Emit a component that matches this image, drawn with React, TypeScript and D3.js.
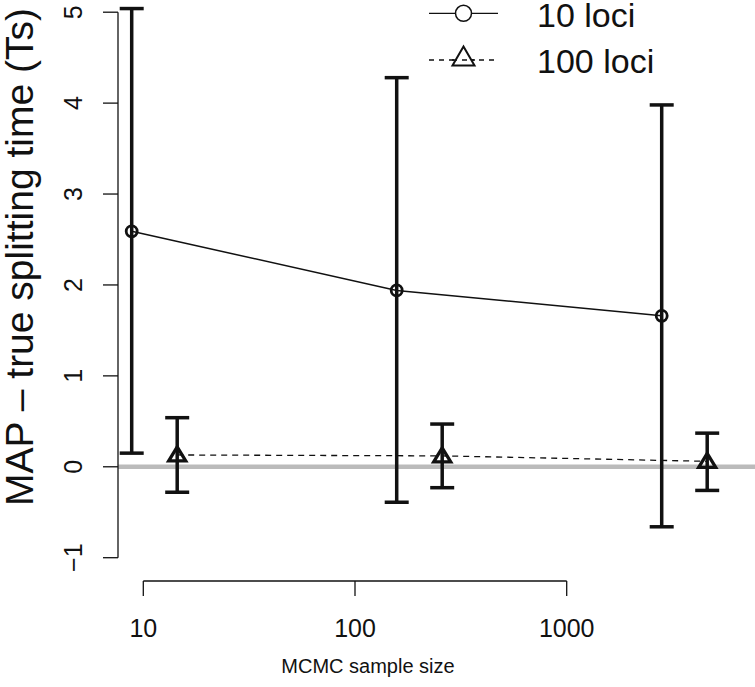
import React from "react";
import * as d3 from "d3";

const sampleSizes = [10, 100, 1000];
const axisTicks = [10, 100, 1000];
const yTicks = [-1, 0, 1, 2, 3, 4, 5];

const loci10Mean = [2.59, 1.94, 1.66];
const loci10Upper = [5.04, 4.28, 3.98];
const loci10Lower = [0.15, -0.39, -0.66];

const loci100Mean = [0.13, 0.12, 0.06];
const loci100Upper = [0.54, 0.47, 0.37];
const loci100Lower = [-0.28, -0.23, -0.26];

const seriesNames = ["10 loci", "100 loci"];

const W = 755;
const H = 687;
const FONT = "'Liberation Sans', Arial, Helvetica, sans-serif";

export default function App() {
  const y = d3.scaleLinear().domain([-1, 5]).range([557.7, 12.2]);
  const xAxis = d3.scaleLog().domain([10, 1000]).range([143.3, 566.7]);
  const xPos = d3
    .scalePoint<string>()
    .domain(sampleSizes.map(String))
    .range([131.7, 661.7]);
  const offset = 45.5;

  const s1 = sampleSizes.map((s, i) => ({
    x: xPos(String(s))!,
    m: loci10Mean[i],
    lo: loci10Lower[i],
    hi: loci10Upper[i],
  }));
  const s2 = sampleSizes.map((s, i) => ({
    x: xPos(String(s))! + offset,
    m: loci100Mean[i],
    lo: loci100Lower[i],
    hi: loci100Upper[i],
  }));

  const line = d3
    .line<{ x: number; m: number }>()
    .x((d) => d.x)
    .y((d) => y(d.m));

  const capW = 12;
  const tri = (cx: number, cy: number, w: number, h: number) =>
    `M${cx - w / 2},${cy + h / 2}L${cx + w / 2},${cy + h / 2}L${cx},${cy - h / 2}Z`;

  const axisX = 118;
  const axisY = 581;

  return (
    <svg
      width={W}
      height={H}
      style={{ position: "absolute", left: 0, top: 0, background: "#fff" }}
      fontFamily={FONT}
    >
      {/* reference zero line */}
      <line x1={axisX} x2={W} y1={y(0)} y2={y(0)} stroke="#bbbbbb" strokeWidth={4.5} />

      {/* y axis */}
      <line x1={axisX} x2={axisX} y1={y(-1)} y2={y(5)} stroke="#111" strokeWidth={1.3} />
      {yTicks.map((t) => (
        <g key={t}>
          <line x1={axisX - 15} x2={axisX} y1={y(t)} y2={y(t)} stroke="#111" strokeWidth={1.3} />
          <text
            transform={`translate(82,${y(t)}) rotate(-90)`}
            textAnchor="middle"
            fontSize={25}
            fill="#111"
          >
            {t < 0 ? "\u2212" + Math.abs(t) : t}
          </text>
        </g>
      ))}
      <text
        transform={`translate(33,257) rotate(-90)`}
        textAnchor="middle"
        fontSize={39}
        fill="#111"
      >
        MAP – true splitting time (Ts)
      </text>

      {/* x axis */}
      <line
        x1={xAxis(10)}
        x2={xAxis(1000)}
        y1={axisY}
        y2={axisY}
        stroke="#111"
        strokeWidth={1.3}
      />
      {axisTicks.map((t) => (
        <g key={t}>
          <line x1={xAxis(t)} x2={xAxis(t)} y1={axisY} y2={axisY + 15} stroke="#111" strokeWidth={1.3} />
          <text x={xAxis(t)} y={637} textAnchor="middle" fontSize={25} fill="#111">
            {t}
          </text>
        </g>
      ))}
      <text x={368} y={673} textAnchor="middle" fontSize={20} fill="#111">
        MCMC sample size
      </text>

      {/* lines */}
      <path d={line(s1)!} fill="none" stroke="#111" strokeWidth={1.5} />
      <path d={line(s2)!} fill="none" stroke="#111" strokeWidth={1.3} strokeDasharray="6,5" />

      {/* error bars */}
      {[...s1, ...s2].map((d, i) => (
        <g key={"eb" + i} stroke="#111" strokeWidth={3.5}>
          <line x1={d.x} x2={d.x} y1={y(d.lo)} y2={y(d.hi)} />
          <line x1={d.x - capW} x2={d.x + capW} y1={y(d.hi)} y2={y(d.hi)} />
          <line x1={d.x - capW} x2={d.x + capW} y1={y(d.lo)} y2={y(d.lo)} />
        </g>
      ))}

      {/* markers */}
      {s1.map((d, i) => (
        <circle key={"c" + i} cx={d.x} cy={y(d.m)} r={5.5} fill="none" stroke="#111" strokeWidth={2.8} />
      ))}
      {s2.map((d, i) => (
        <path key={"t" + i} d={tri(d.x, y(d.m) - 1, 17, 14)} fill="none" stroke="#111" strokeWidth={3.3} strokeLinejoin="miter" />
      ))}

      {/* legend */}
      <g>
        <line x1={429} x2={498} y1={13.3} y2={13.3} stroke="#111" strokeWidth={1.3} />
        <circle cx={463.5} cy={13.3} r={8} fill="#fff" stroke="#111" strokeWidth={1.5} />
        <text x={537} y={27} fontSize={34} fill="#111">
          {seriesNames[0]}
        </text>
        <line x1={429} x2={498} y1={60} y2={60} stroke="#111" strokeWidth={1.3} strokeDasharray="5,5" />
        <path d={tri(463.5, 56, 22, 19)} fill="#fff" stroke="#111" strokeWidth={2} />
        <line x1={452} x2={475} y1={60} y2={60} stroke="#111" strokeWidth={1.3} strokeDasharray="5,5" />
        <text x={537} y={73} fontSize={34} fill="#111">
          {seriesNames[1]}
        </text>
      </g>
    </svg>
  );
}
